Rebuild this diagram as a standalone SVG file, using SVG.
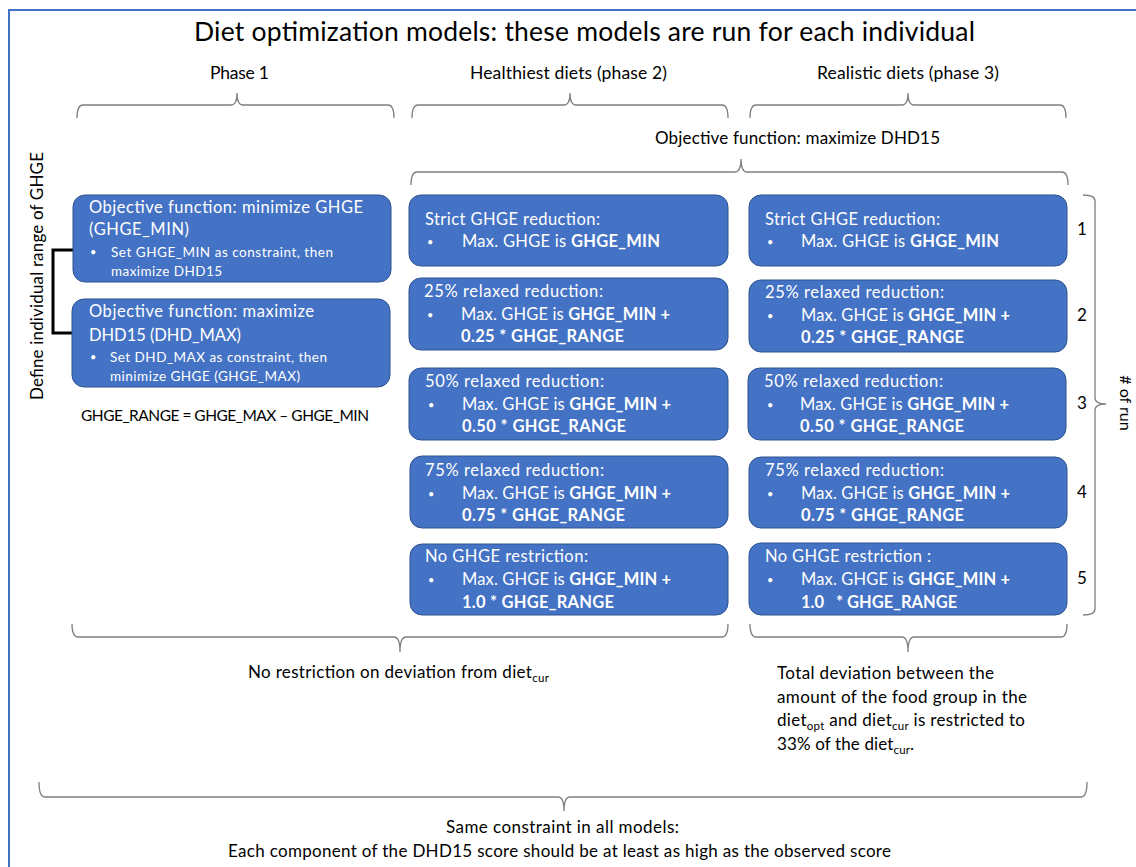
<svg xmlns="http://www.w3.org/2000/svg" width="1136" height="867" viewBox="0 0 1136 867">
<style>
text{font-family:Lato,"Liberation Sans",sans-serif;fill:#000}
.box{fill:#4472C4;stroke:#2F528F;stroke-width:1}
.bt{fill:#fff;font-size:16.5px}
.bs{fill:#fff;font-size:13.5px}
.bul{fill:#fff;font-size:11px}
.b{font-weight:bold}
.brace{fill:none;stroke:#7f7f7f;stroke-width:1.3}
.lbl{font-size:17px}
.ph{font-size:17.5px}
.sm{font-size:15.5px}
.sub{font-size:11.5px}
</style>
<rect x="9" y="10" width="1200" height="900" fill="none" stroke="#4472C4" stroke-width="2"/>
<text x="584.5" y="41" font-size="26.5" text-anchor="middle" textLength="781">Diet optimization models: these models are run for each individual</text>
<text class="ph" x="239.5" y="79" text-anchor="middle" textLength="59">Phase 1</text>
<text class="ph" x="568.5" y="79" text-anchor="middle" textLength="197">Healthiest diets (phase 2)</text>
<text class="ph" x="908" y="79" text-anchor="middle" textLength="182">Realistic diets (phase 3)</text>
<text class="lbl" x="797.5" y="144" text-anchor="middle" textLength="285">Objective function: maximize DHD15</text>
<text class="lbl" transform="translate(43,276) rotate(-90)" text-anchor="middle" textLength="248">Define individual range of GHGE</text>
<text class="lbl" transform="translate(1120,403) rotate(90)" text-anchor="middle" style="font-size:16px"># of run</text>
<text class="sm" x="81" y="421" textLength="288">GHGE_RANGE = GHGE_MAX – GHGE_MIN</text>
<g id="run-numbers">
<text class="lbl" x="1082" y="235" text-anchor="middle">1</text>
<text class="lbl" x="1082" y="321" text-anchor="middle">2</text>
<text class="lbl" x="1082" y="409" text-anchor="middle">3</text>
<text class="lbl" x="1082" y="498" text-anchor="middle">4</text>
<text class="lbl" x="1082" y="584" text-anchor="middle">5</text>
</g>
<g id="connectors">
<path class="brace" d="M77,118 Q77,105 83,105 L231,105 Q237,105 237,93 Q237,105 243,105 L388,105 Q394,105 394,118"/>
<path class="brace" d="M412,118 Q412,105 418,105 L564,105 Q570,105 570,93 Q570,105 576,105 L722,105 Q728,105 728,118"/>
<path class="brace" d="M750,118 Q750,105 756,105 L902,105 Q908,105 908,93 Q908,105 914,105 L1060,105 Q1066,105 1066,118"/>
<path class="brace" d="M411,185 Q411,172 417,172 L735,172 Q741,172 741,159 Q741,172 747,172 L1062,172 Q1068,172 1068,185"/>
<path class="brace" d="M72,624 Q72,637 78,637 L394,637 Q400,637 400,652 Q400,637 406,637 L722,637 Q728,637 728,624"/>
<path class="brace" d="M750,624 Q750,637 756,637 L902,637 Q908,637 908,652 Q908,637 914,637 L1061,637 Q1067,637 1067,624"/>
<path class="brace" d="M39,782 Q39,797 45,797 L558,797 Q564,797 564,811 Q564,797 570,797 L1081,797 Q1087,797 1087,782"/>
<path class="brace" d="M1083,195 Q1095,195 1095,201 L1095,398 Q1095,404 1106,404 Q1095,404 1095,410 L1095,609 Q1095,615 1083,615"/>
<path d="M73,250 L53,250 L53,333 L72,333" fill="none" stroke="#000" stroke-width="3"/>
</g>
<g id="phase1-min">
<rect class="box" x="73" y="195" width="318" height="87" rx="12"/>
<text class="bt" x="89" y="213" textLength="274">Objective function: minimize GHGE</text>
<text class="bt" x="89" y="235" textLength="100">(GHGE_MIN)</text>
<text class="bul" x="90" y="256">•</text>
<text class="bs" x="111" y="257" textLength="222">Set GHGE_MIN as constraint, then</text>
<text class="bs" x="111" y="276" textLength="111">maximize DHD15</text>
</g>
<g id="phase1-max">
<rect class="box" x="72" y="299" width="318" height="88" rx="12"/>
<text class="bt" x="89" y="317" textLength="225">Objective function: maximize</text>
<text class="bt" x="89" y="341" textLength="152">DHD15 (DHD_MAX)</text>
<text class="bul" x="90" y="361">•</text>
<text class="bs" x="110" y="362" textLength="217">Set DHD_MAX as constraint, then</text>
<text class="bs" x="110" y="381" textLength="190">minimize GHGE (GHGE_MAX)</text>
</g>
<g id="healthy-1">
<rect class="box" x="409" y="195" width="319" height="71" rx="12"/>
<text class="bt" x="425" y="225" textLength="175">Strict GHGE reduction:</text>
<text class="bul" x="427" y="246">•</text>
<text class="bt" x="462" y="247" textLength="198">Max. GHGE is <tspan class="b">GHGE_MIN</tspan></text>
</g>
<g id="healthy-2">
<rect class="box" x="409" y="278" width="319" height="72" rx="12"/>
<text class="bt" x="424" y="297" textLength="179">25% relaxed reduction:</text>
<text class="bul" x="427" y="319">•</text>
<text class="bt" x="461" y="320" textLength="209">Max. GHGE is <tspan class="b">GHGE_MIN +</tspan></text>
<text class="bt b" x="461" y="342" textLength="163">0.25 * GHGE_RANGE</text>
</g>
<g id="healthy-3">
<rect class="box" x="409" y="368" width="319" height="72" rx="12"/>
<text class="bt" x="425" y="387" textLength="179">50% relaxed reduction:</text>
<text class="bul" x="428" y="409">•</text>
<text class="bt" x="462" y="410" textLength="209">Max. GHGE is <tspan class="b">GHGE_MIN +</tspan></text>
<text class="bt b" x="462" y="432" textLength="164">0.50 * GHGE_RANGE</text>
</g>
<g id="healthy-4">
<rect class="box" x="410" y="456" width="318" height="72" rx="12"/>
<text class="bt" x="425" y="476" textLength="179">75% relaxed reduction:</text>
<text class="bul" x="428" y="498">•</text>
<text class="bt" x="462" y="499" textLength="209">Max. GHGE is <tspan class="b">GHGE_MIN +</tspan></text>
<text class="bt b" x="462" y="521" textLength="163">0.75 * GHGE_RANGE</text>
</g>
<g id="healthy-5">
<rect class="box" x="410" y="544" width="318" height="71" rx="12"/>
<text class="bt" x="425" y="562" textLength="163">No GHGE restriction:</text>
<text class="bul" x="428" y="584">•</text>
<text class="bt" x="462" y="585" textLength="209">Max. GHGE is <tspan class="b">GHGE_MIN +</tspan></text>
<text class="bt b" x="462" y="608" textLength="152">1.0 * GHGE_RANGE</text>
</g>
<g id="realistic-1">
<rect class="box" x="749" y="195" width="318" height="71" rx="12"/>
<text class="bt" x="765" y="225" textLength="175">Strict GHGE reduction:</text>
<text class="bul" x="767" y="246">•</text>
<text class="bt" x="801" y="247" textLength="198">Max. GHGE is <tspan class="b">GHGE_MIN</tspan></text>
</g>
<g id="realistic-2">
<rect class="box" x="749" y="280" width="318" height="72" rx="12"/>
<text class="bt" x="765" y="298" textLength="179">25% relaxed reduction:</text>
<text class="bul" x="767" y="320">•</text>
<text class="bt" x="801" y="321" textLength="209">Max. GHGE is <tspan class="b">GHGE_MIN +</tspan></text>
<text class="bt b" x="801" y="343" textLength="163">0.25 * GHGE_RANGE</text>
</g>
<g id="realistic-3">
<rect class="box" x="748" y="368" width="318" height="72" rx="12"/>
<text class="bt" x="764" y="387" textLength="179">50% relaxed reduction:</text>
<text class="bul" x="767" y="409">•</text>
<text class="bt" x="800" y="410" textLength="209">Max. GHGE is <tspan class="b">GHGE_MIN +</tspan></text>
<text class="bt b" x="800" y="432" textLength="164">0.50 * GHGE_RANGE</text>
</g>
<g id="realistic-4">
<rect class="box" x="749" y="457" width="318" height="71" rx="12"/>
<text class="bt" x="765" y="476" textLength="179">75% relaxed reduction:</text>
<text class="bul" x="767" y="498">•</text>
<text class="bt" x="801" y="499" textLength="209">Max. GHGE is <tspan class="b">GHGE_MIN +</tspan></text>
<text class="bt b" x="801" y="521" textLength="163">0.75 * GHGE_RANGE</text>
</g>
<g id="realistic-5">
<rect class="box" x="749" y="543" width="318" height="72" rx="12"/>
<text class="bt" x="765" y="562" textLength="166">No GHGE restriction :</text>
<text class="bul" x="767" y="584">•</text>
<text class="bt" x="801" y="585" textLength="209">Max. GHGE is <tspan class="b">GHGE_MIN +</tspan></text>
<text class="bt b" x="801" y="608">1.0<tspan x="836">* GHGE_RANGE</tspan></text>
</g>
<g id="notes">
<text class="lbl" x="248" y="678" textLength="301">No restriction on deviation from diet<tspan class="sub" dy="4">cur</tspan></text>
<text class="lbl" x="777" y="679" textLength="217">Total deviation between the</text>
<text class="lbl" x="777" y="703" textLength="250">amount of the food group in the</text>
<text class="lbl" x="777" y="726" textLength="248">diet<tspan class="sub" dy="4">opt</tspan><tspan dy="-4"> and diet</tspan><tspan class="sub" dy="4">cur</tspan><tspan dy="-4"> is restricted to</tspan></text>
<text class="lbl" x="777" y="750" textLength="137">33% of the diet<tspan class="sub" dy="4">cur</tspan><tspan dy="-4">.</tspan></text>
<text class="lbl" x="562.5" y="833" text-anchor="middle" textLength="233">Same constraint in all models:</text>
<text class="lbl" x="559.5" y="857" text-anchor="middle" textLength="663">Each component of the DHD15 score should be at least as high as the observed score</text>
</g>
</svg>
